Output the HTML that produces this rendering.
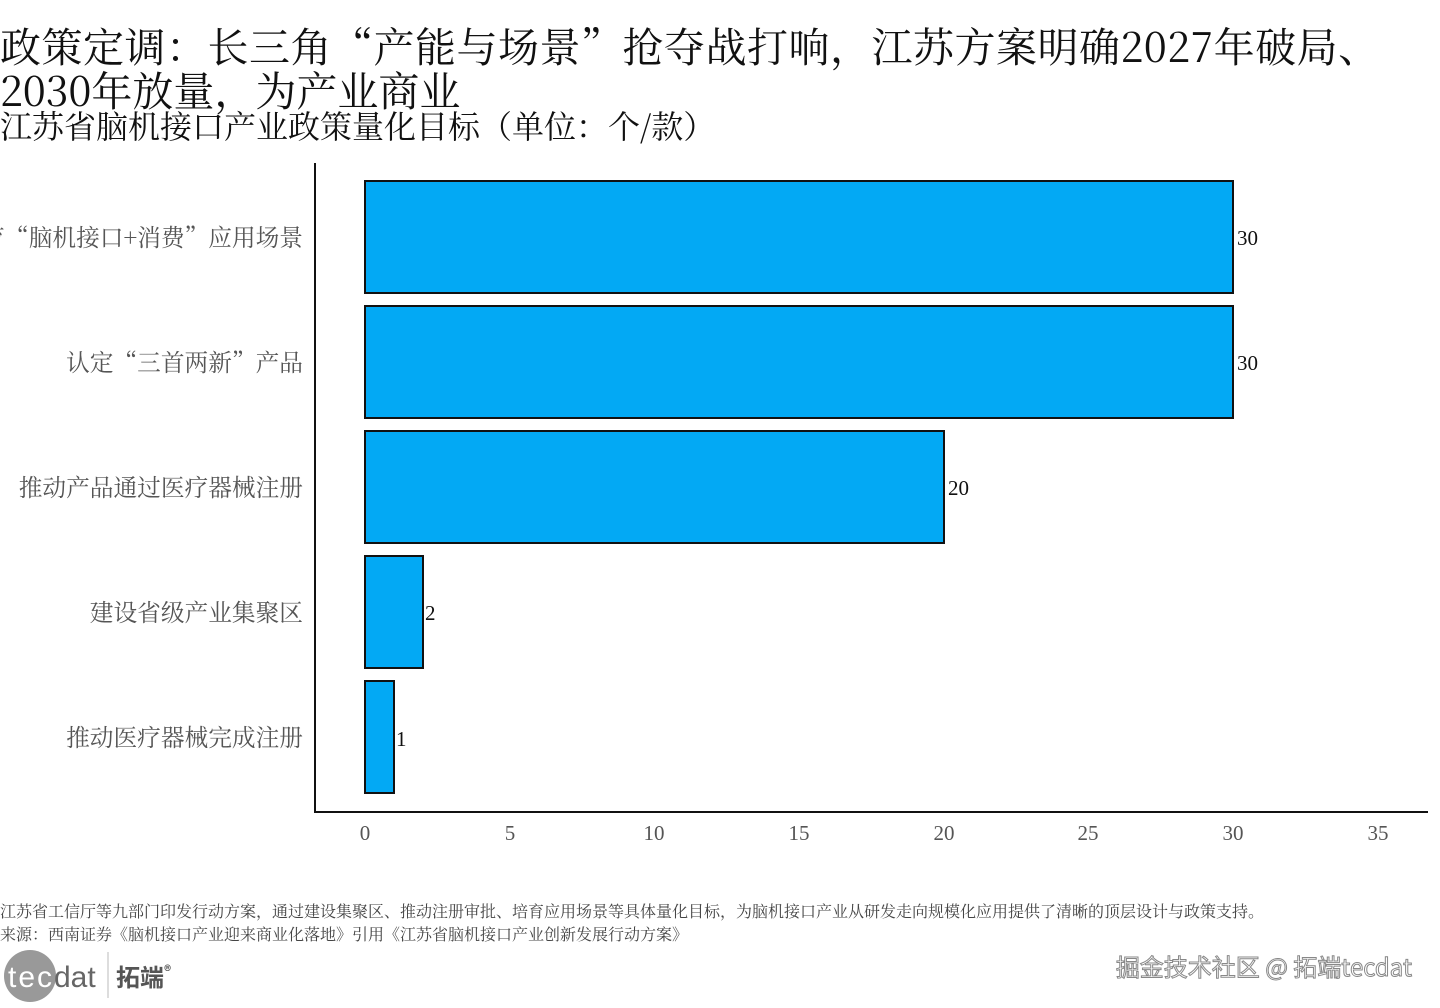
<!DOCTYPE html>
<html><head><meta charset="utf-8"><style>
body{margin:0;width:1440px;height:1008px;background:#fff;overflow:hidden;position:relative;font-family:"Noto Serif CJK SC","Liberation Serif",serif;}
.t{position:absolute;left:0;white-space:nowrap;color:#111;}
</style></head><body>
<div class="t" style="top:20px;font-size:41px;line-height:50px;letter-spacing:0.5px;">政策定调：长三角“产能与场景”抢夺战打响，江苏方案明确2027年破局、</div>
<div class="t" style="top:64px;font-size:41px;line-height:50px;">2030年放量，为产业商业</div>
<div class="t" style="top:104px;font-size:32px;line-height:42px;">江苏省脑机接口产业政策量化目标（单位：个/款）</div>
<svg width="1440" height="1008" style="position:absolute;left:0;top:0" font-family="Noto Serif CJK SC, Liberation Serif, serif">
<g fill="#03a9f4" stroke="#111" stroke-width="2">
<rect x="365" y="181" width="868" height="112"/>
<rect x="365" y="306" width="868" height="112"/>
<rect x="365" y="431" width="579" height="112"/>
<rect x="365" y="556" width="58" height="112"/>
<rect x="365" y="681" width="29" height="112"/>
</g>
<line x1="315" y1="163" x2="315" y2="813" stroke="#111" stroke-width="2"/>
<line x1="314" y1="812" x2="1428" y2="812" stroke="#111" stroke-width="2"/>
<g font-size="21" fill="#111" font-family="Liberation Serif, serif">
<text x="1237" y="245">30</text><text x="1237" y="370">30</text><text x="948" y="495">20</text><text x="425" y="620">2</text><text x="396" y="746">1</text>
</g>
<g font-size="23.7" fill="#555" text-anchor="end">
<text x="303" y="246">培育“脑机接口+消费”应用场景</text>
<text x="303" y="371">认定“三首两新”产品</text>
<text x="303" y="496">推动产品通过医疗器械注册</text>
<text x="303" y="621">建设省级产业集聚区</text>
<text x="303" y="746">推动医疗器械完成注册</text>
</g>
<g font-size="21" fill="#555" text-anchor="middle" font-family="Liberation Serif, serif">
<text x="365" y="840">0</text><text x="510" y="840">5</text><text x="654" y="840">10</text><text x="799" y="840">15</text><text x="944" y="840">20</text><text x="1088" y="840">25</text><text x="1233" y="840">30</text><text x="1378" y="840">35</text>
</g>
<g font-size="16" fill="#444">
<text x="0" y="917">江苏省工信厅等九部门印发行动方案，通过建设集聚区、推动注册审批、培育应用场景等具体量化目标，为脑机接口产业从研发走向规模化应用提供了清晰的顶层设计与政策支持。</text>
<text x="0" y="940">来源：西南证券《脑机接口产业迎来商业化落地》引用《江苏省脑机接口产业创新发展行动方案》</text>
</g>
<circle cx="30" cy="976" r="26" fill="#999"/>
<text x="8" y="987" font-family="Liberation Sans, sans-serif" font-size="30" fill="#fff" textLength="44">tec</text>
<text x="54" y="987" font-family="Liberation Sans, sans-serif" font-size="30" fill="#666">dat</text>
<line x1="108" y1="952" x2="108" y2="998" stroke="#bbb" stroke-width="1"/>
<text x="116" y="986" font-family="Noto Sans CJK SC, sans-serif" font-weight="bold" font-size="24" fill="#555">拓端<tspan font-size="14" dy="-10">®</tspan></text>
<text x="1412" y="976" text-anchor="end" font-family="Noto Sans CJK SC, sans-serif" font-size="24" fill="#fff" stroke="#888" stroke-width="1">掘金技术社区 @ 拓端tecdat</text>
</svg>
</body></html>
